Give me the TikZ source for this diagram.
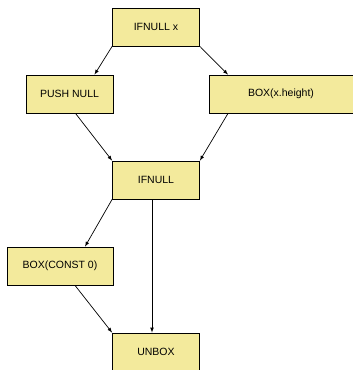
\documentclass[tikz,border=0pt]{standalone}
\usepackage{fontspec}
\setmainfont{Liberation Sans}
\definecolor{boxyellow}{HTML}{F3EA9C}
\tikzset{>=latex}
\tikzset{op/.style={rectangle,draw=black,line width=0.8pt,fill=boxyellow,inner sep=0pt,minimum height=38pt,font=\fontsize{10.5}{12}\selectfont}}

\begin{document}
\begin{tikzpicture}[x=1pt,y=-1pt]
\useasboundingbox (0,0) rectangle (353,370);
\clip (0,0) rectangle (353,370);
\node[op,minimum width=87pt] (ifx) at (156,27) {IFNULL x};
\node[op,minimum width=87pt] (push) at (69.5,94) {PUSH NULL};
\node[op,minimum width=144pt] (boxh) at (281,94) {BOX(x.height)};
\node[op,minimum width=87pt] (ifn) at (156,180) {IFNULL};
\node[op,minimum width=106pt] (boxc) at (60,266) {BOX(CONST 0)};
\node[op,minimum width=87pt] (unbox) at (156,352) {UNBOX};
\draw[->,line width=0.7pt] (ifx.south west) -- ([xshift=25pt]push.north);
\draw[->,line width=0.7pt] (ifx.south east) -- ([xshift=-53pt]boxh.north);
\draw[->,line width=0.7pt] ([xshift=6pt]push.south) -- (ifn.north west);
\draw[->,line width=0.7pt] ([xshift=-53pt]boxh.south) -- (ifn.north east);
\draw[->,line width=0.7pt] (ifn.south west) -- ([xshift=25pt]boxc.north);
\draw[->,line width=0.7pt] ([xshift=-4pt]ifn.south) -- ([xshift=-4pt]unbox.north);
\draw[->,line width=0.7pt] ([xshift=15pt]boxc.south) -- (unbox.north west);
\end{tikzpicture}
\end{document}
